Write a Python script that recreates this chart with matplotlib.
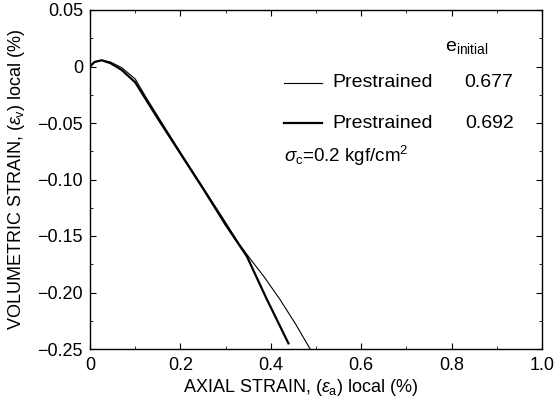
import matplotlib
matplotlib.use("Agg")
import matplotlib.pyplot as plt
from matplotlib.ticker import MultipleLocator

plt.rcParams['font.family'] = ['Liberation Sans', 'DejaVu Sans']
plt.rcParams['mathtext.fontset'] = 'custom'
plt.rcParams['mathtext.rm'] = 'Liberation Sans'
plt.rcParams['mathtext.it'] = 'Liberation Sans:italic'

# Prestrained, e_initial = 0.677 (thin)
x_677 = [0.0, 0.01, 0.026, 0.045, 0.07, 0.1, 0.125, 0.15, 0.2, 0.25, 0.3, 0.33, 0.354, 0.385, 0.42, 0.455, 0.487]
y_677 = [0.0, 0.004, 0.0055, 0.004, -0.001, -0.011, -0.028, -0.044, -0.076, -0.107, -0.138, -0.157, -0.170, -0.186, -0.206, -0.228, -0.250]
# Prestrained, e_initial = 0.692 (thick)
x_692 = [0.0, 0.01, 0.026, 0.045, 0.07, 0.1, 0.125, 0.15, 0.2, 0.25, 0.3, 0.347, 0.39, 0.439]
y_692 = [0.0, 0.004, 0.0055, 0.003, -0.003, -0.014, -0.030, -0.046, -0.077, -0.108, -0.140, -0.168, -0.205, -0.245]

xticks = [0, 0.2, 0.4, 0.6, 0.8, 1.0]
xticklabels = ['0', '0.2', '0.4', '0.6', '0.8', '1.0']
yticks = [0.05, 0, -0.05, -0.10, -0.15, -0.20, -0.25]
yticklabels = ['0.05', '0', '\u22120.05', '\u22120.10', '\u22120.15', '\u22120.20', '\u22120.25']

fig = plt.figure(figsize=(5.55, 4.01), dpi=100)
ax = fig.add_axes([90/555, 1-349/401, 452/555, 339/401])

ax.plot(x_677, y_677, color='black', lw=0.8)
ax.plot(x_692, y_692, color='black', lw=1.6)

ax.set_xlim(0, 1.0)
ax.set_ylim(-0.25, 0.05)
ax.set_xticks(xticks)
ax.set_xticklabels(xticklabels)
ax.set_yticks(yticks)
ax.set_yticklabels(yticklabels)
ax.xaxis.set_minor_locator(MultipleLocator(0.1))
ax.yaxis.set_minor_locator(MultipleLocator(0.025))
ax.tick_params(which='both', direction='in', top=True, right=True, labelsize=13)
ax.tick_params(axis='x', which='major', pad=6)
ax.tick_params(axis='y', which='major', pad=5)
ax.tick_params(which='major', length=4)
ax.tick_params(which='minor', length=2)
for s in ax.spines.values():
    s.set_linewidth(1.0)

ax.set_xlabel(r'AXIAL STRAIN, ($\varepsilon_{\rm a}$) local (%)', fontsize=13, va='center')
ax.set_ylabel(r'VOLUMETRIC STRAIN, ($\varepsilon_{\rm v}$) local (%)', fontsize=13, va='center')
ax.xaxis.set_label_coords(0.467, -0.115)
ax.yaxis.set_label_coords(-0.163, 0.5)

# legend-like annotations
ax.text(0.785, 0.0164, r'$\mathrm{e}_{\mathrm{initial}}$', fontsize=14, va='center', ha='left')
ax.plot([0.429, 0.513], [-0.0146, -0.0146], color='black', lw=0.8)
ax.plot([0.429, 0.513], [-0.050, -0.050], color='black', lw=1.6)
ax.text(0.536, -0.0146, 'Prestrained', fontsize=14, va='center', ha='left')
ax.text(0.536, -0.050, 'Prestrained', fontsize=14, va='center', ha='left')
ax.text(0.937, -0.0146, '0.677', fontsize=14, va='center', ha='right')
ax.text(0.937, -0.050, '0.692', fontsize=14, va='center', ha='right')
ax.text(0.43, -0.079, r'$\sigma_{\rm c}$=0.2 kgf/cm$^2$', fontsize=13.5, va='center', ha='left')

fig.savefig('out.png', dpi=100)
